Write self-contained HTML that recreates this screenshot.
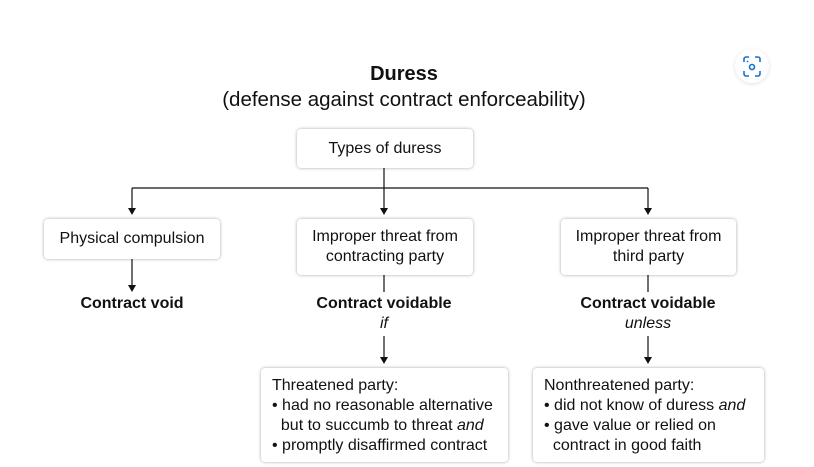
<!DOCTYPE html>
<html><head><style>
body{margin:0;width:814px;height:467px;background:#fff;font-family:"Liberation Sans",Arial,sans-serif;color:#111;position:relative;overflow:hidden}
.b{position:absolute;background:#fff;border-radius:4px;box-shadow:0 0 3px rgba(0,0,0,.35);font-size:16px;display:flex;align-items:center;justify-content:center;text-align:center;line-height:20px;box-sizing:border-box}
.p{position:absolute;background:#fff;border-radius:4px;box-shadow:0 0 3px rgba(0,0,0,.35);font-size:16px;line-height:20px;box-sizing:border-box;padding:8px 0 0 11px;white-space:nowrap}
.t{position:absolute;font-size:16px;text-align:center;width:200px}
</style></head><body>
<div class="t" style="left:304px;top:63px;font-size:20px;font-weight:bold;width:200px">Duress</div>
<div class="t" style="left:154px;top:88px;font-size:20.5px;width:500px">(defense against contract enforceability)</div>
<div style="position:absolute;left:735px;top:49px;width:34px;height:34px;border-radius:50%;background:#fff;box-shadow:0 1px 4px rgba(0,0,0,.12)"></div>
<svg style="position:absolute;left:0;top:0" width="814" height="467">
<g fill="none" stroke="#1a6fd1" stroke-width="1.6">
<path d="M744 62v-3a2 2 0 0 1 2-2h3M755 57h3a2 2 0 0 1 2 2v3M760 71v3a2 2 0 0 1-2 2h-3M749 76h-3a2 2 0 0 1-2-2v-3"/>
<circle cx="752" cy="67" r="2.5"/></g>
<circle cx="747.5" cy="61.5" r="0.9" fill="#1a6fd1"/>
<g stroke="#111" stroke-width="1.2" fill="none">
<path d="M384 168V210M132 188H648M132 188V210M648 188V210M132 259V286M384 275V292M648 275V292M384 336V358M648 336V358"/>
</g>
<g fill="#111">
<path d="M128 208h8l-4 7z"/><path d="M380 208h8l-4 7z"/><path d="M644 208h8l-4 7z"/>
<path d="M128 285h8l-4 7z"/><path d="M380 357h8l-4 7z"/><path d="M644 357h8l-4 7z"/>
</g>
</svg>
<div class="b" style="left:297px;top:129px;width:176px;height:39px">Types of duress</div>
<div class="b" style="left:44px;top:219px;width:176px;height:40px">Physical compulsion</div>
<div class="b" style="left:297px;top:219px;width:176px;height:56px">Improper threat from<br>contracting party</div>
<div class="b" style="left:561px;top:219px;width:175px;height:56px">Improper threat from<br>third party</div>
<div class="t" style="left:32px;top:295px;font-weight:bold">Contract void</div>
<div class="t" style="left:284px;top:295px;font-weight:bold">Contract voidable</div>
<div class="t" style="left:284px;top:315px;font-style:italic">if</div>
<div class="t" style="left:548px;top:295px;font-weight:bold">Contract voidable</div>
<div class="t" style="left:548px;top:315px;font-style:italic">unless</div>
<div class="p" style="left:261px;top:368px;width:247px;height:94px">Threatened party:<br>• had no reasonable alternative<br>&nbsp;&nbsp;but to succumb to threat <i>and</i><br>• promptly disaffirmed contract</div>
<div class="p" style="left:533px;top:368px;width:231px;height:94px">Nonthreatened party:<br>• did not know of duress <i>and</i><br>• gave value or relied on<br>&nbsp;&nbsp;contract in good faith</div>
</body></html>
